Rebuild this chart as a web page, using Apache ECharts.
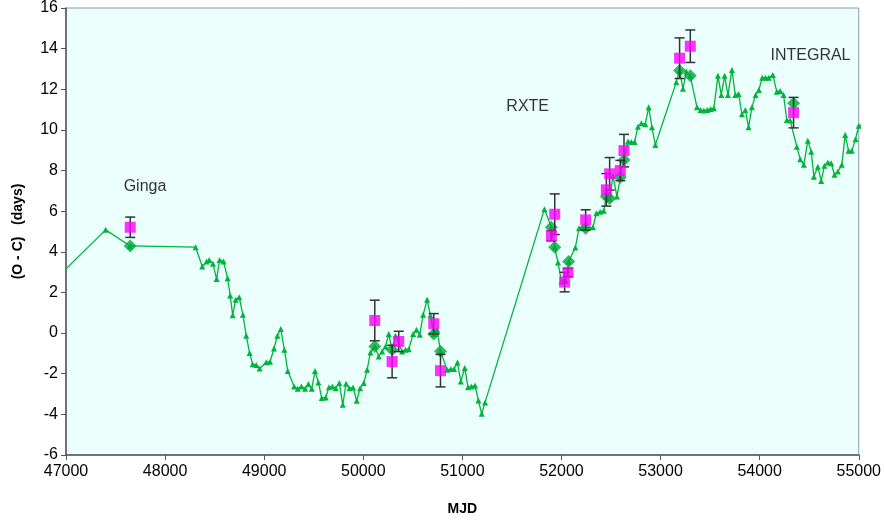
<!DOCTYPE html>
<html><head><meta charset="utf-8">
<script src="https://cdn.jsdelivr.net/npm/echarts@6/dist/echarts.min.js"></script>
<style>html,body{margin:0;padding:0;background:#fff}#c{width:884px;height:525px}</style>
</head><body><div id="c"></div>
<script>
// Green O-C curve (MJD, days)
const curveMJD = [46950,47400,47648,48308,48375,48419,48445,48483,48520,48550,48590,48631,48657,48682,48712,48748,48785,48819,48853,48883,48920,48954,49021,49059,49099,49133,49167,49204,49238,49302,49339,49376,49413,49446,49480,49513,49547,49581,49621,49654,49688,49722,49758,49793,49826,49860,49897,49934,49968,50005,50039,50072,50116,50156,50190,50224,50257,50291,50325,50392,50426,50459,50503,50537,50570,50604,50644,50678,50711,50745,50779,50846,50883,50916,50950,50984,51024,51057,51091,51128,51162,51195,51229,51828,51898,51932,51965,51999,52020,52045,52073,52140,52177,52210,52244,52318,52352,52390,52426,52453,52486,52520,52560,52594,52631,52671,52705,52738,52772,52806,52846,52880,52913,52947,53159,53192,53226,53260,53300,53367,53404,53437,53471,53505,53538,53579,53613,53646,53680,53720,53754,53787,53821,53855,53888,53922,53959,53992,54026,54060,54093,54133,54173,54207,54241,54274,54308,54375,54409,54446,54486,54520,54547,54587,54621,54654,54688,54722,54755,54789,54829,54863,54897,54930,54967,55000,55025];
const curveOC = [2.92,5.08,4.29,4.23,3.28,3.52,3.6,3.41,2.66,3.6,3.52,2.7,1.85,0.88,1.64,1.77,0.9,-0.13,-0.98,-1.53,-1.57,-1.74,-1.44,-1.41,-0.76,-0.13,0.2,-0.82,-1.87,-2.63,-2.74,-2.63,-2.74,-2.51,-2.74,-1.87,-2.43,-3.2,-3.17,-2.66,-2.63,-2.71,-2.46,-3.53,-2.49,-2.71,-2.68,-3.33,-2.71,-2.46,-1.81,-0.95,-0.66,-1.15,-0.9,-0.66,-0.05,-0.82,-0.13,-0.9,-0.82,-0.79,-0.05,0.16,-0.08,0.9,1.64,0.87,-0.05,0.16,-0.89,-1.81,-1.77,-1.77,-1.45,-2.38,-1.72,-2.66,-2.63,-2.58,-3.32,-3.97,-3.41,6.1,5.21,4.23,3.47,2.54,2.55,2.58,3.52,4.21,5.16,5.2,5.16,5.21,5.9,5.97,6.02,6.72,6.62,7.74,6.72,7.67,8.52,9.43,9.4,9.41,10.16,10.33,10.28,11.12,10.13,9.26,12.35,12.92,12.02,12.87,12.66,11.12,10.98,10.95,10.98,11.03,11.07,12.66,11.72,12.66,11.72,12.95,11.72,11.77,10.77,10.98,10.13,11.12,11.72,11.97,12.57,12.57,12.57,12.7,11.88,11.92,11.72,10.49,10.46,9.17,8.56,8.28,9.47,8.93,7.7,8.19,7.49,8.23,8.39,8.36,7.79,7.95,8.28,9.75,8.97,8.97,9.54,10.2,10.22];

// Green diamonds
const diamondMJD = [47648,50116,50291,50711,50779,51898,51932,52073,52244,52453,52486,52594,52631,53192,53300,54342];
const diamondOC  = [4.29,-0.66,-0.82,-0.05,-0.89,5.21,4.23,3.52,5.16,6.72,6.62,7.67,8.52,12.92,12.66,11.31];

// Magenta squares with error bars
const squareMJD = [47648,50116,50291,50358,50711,50779,51898,51932,52032,52066,52244,52453,52486,52594,52631,53192,53300,54342];
const squareOC  = [5.21,0.62,-1.4,-0.41,0.46,-1.85,4.79,5.85,2.51,2.98,5.57,7.05,7.84,8.0,8.98,13.53,14.12,10.85];
const squareErr = [0.5,1.0,0.8,0.5,0.5,0.8,0.25,1.0,0.48,0.2,0.5,0.8,0.8,0.5,0.8,1.0,0.8,0.75];

// Annotations
const noteText = ['Ginga','RXTE','INTEGRAL'];
const noteMJD  = [47797,51659,54513];
const noteOC   = [7.2,11.13,13.64];

// Axis ticks
const xMin = 47000, xMax = 55000, xStep = 1000;
const yMin = -6, yMax = 16, yStep = 2;

const chart = echarts.init(document.getElementById('c'));
const font = 'Liberation Sans, Arial, sans-serif';
chart.setOption({
  animation: false,
  backgroundColor: '#ffffff',
  grid: {left: 66, right: 25, top: 8, bottom: 70, show: true, backgroundColor: '#ebfffd', borderColor: '#8a9aa8', borderWidth: 1},
  xAxis: {
    type: 'value', min: xMin, max: xMax, interval: xStep,
    name: 'MJD', nameLocation: 'middle', nameGap: 47,
    nameTextStyle: {fontFamily: font, fontWeight: 'bold', fontSize: 14, color: '#000'},
    axisLine: {show: true, onZero: false, lineStyle: {color: '#555', width: 1.5}},
    axisTick: {show: true, inside: false, length: 5, lineStyle: {color: '#555'}},
    axisLabel: {fontFamily: font, fontSize: 16, color: '#000', margin: 9, formatter: v => String(v)},
    splitLine: {show: false}
  },
  yAxis: {
    type: 'value', min: yMin, max: yMax, interval: yStep,
    name: '(O - C)   (days)', nameLocation: 'middle', nameGap: 41, nameRotate: 90,
    nameTextStyle: {fontFamily: font, fontWeight: 'bold', fontSize: 14, color: '#000'},
    axisLine: {show: true, onZero: false, lineStyle: {color: '#555', width: 1.5}},
    axisTick: {show: true, inside: false, length: 5, lineStyle: {color: '#555'}},
    axisLabel: {fontFamily: font, fontSize: 16, color: '#000', margin: 8},
    splitLine: {show: false}
  },
  series: [
    {
      type: 'line', z: 2, clip: false,
      data: curveMJD.map((m, i) => {
        const item = {value: [m, curveOC[i]]};
        if (m < xMin || m > xMax) item.symbol = 'none';
        return item;
      }),
      symbol: 'triangle', symbolSize: 6, showAllSymbol: true,
      itemStyle: {color: '#00b43c'},
      lineStyle: {color: '#00b43c', width: 1.3}
    },
    {
      type: 'scatter', z: 3,
      data: diamondMJD.map((m, i) => [m, diamondOC[i]]),
      symbol: 'diamond', symbolSize: 13,
      itemStyle: {color: '#00a83a'}
    },
    {
      type: 'custom', z: 4,
      data: squareMJD.map((m, i) => [m, squareOC[i] - squareErr[i], squareOC[i] + squareErr[i]]),
      renderItem: function (params, api) {
        const lo = api.coord([api.value(0), api.value(1)]);
        const hi = api.coord([api.value(0), api.value(2)]);
        const w = 5;
        const st = {stroke: '#333', lineWidth: 1.5};
        return {type: 'group', children: [
          {type: 'line', shape: {x1: lo[0], y1: lo[1], x2: hi[0], y2: hi[1]}, style: st},
          {type: 'line', shape: {x1: lo[0]-w, y1: lo[1], x2: lo[0]+w, y2: lo[1]}, style: st},
          {type: 'line', shape: {x1: hi[0]-w, y1: hi[1], x2: hi[0]+w, y2: hi[1]}, style: st}
        ]};
      }
    },
    {
      type: 'scatter', z: 5,
      data: squareMJD.map((m, i) => [m, squareOC[i]]),
      symbol: 'rect', symbolSize: 11,
      itemStyle: {color: '#ff00ff'}
    },
    {
      type: 'scatter', z: 6, silent: true,
      data: noteMJD.map((m, i) => ({value: [m, noteOC[i]], name: noteText[i]})),
      symbolSize: 0, itemStyle: {color: 'transparent'},
      label: {show: true, position: 'inside', formatter: p => p.name, fontFamily: font, fontSize: 16, color: '#000', textBorderWidth: 0}
    }
  ]
});
</script></body></html>
